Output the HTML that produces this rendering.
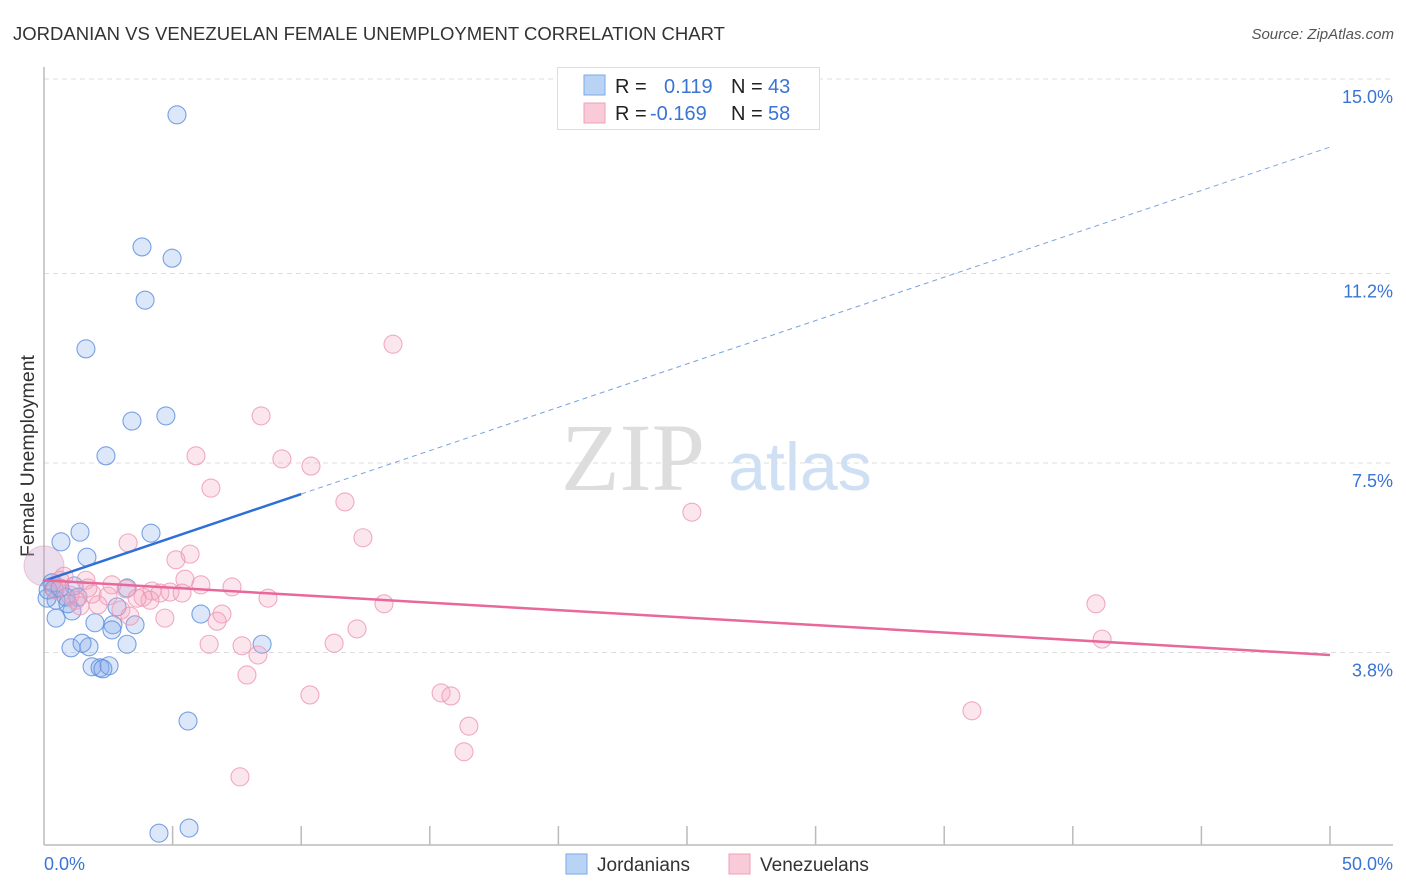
<!DOCTYPE html>
<html><head><meta charset="utf-8"><style>
body{margin:0;background:#fff;font-family:"Liberation Sans",sans-serif;}
svg{display:block}
</style></head><body>
<svg id="chart" width="1406" height="892">
<text x="13" y="40" font-size="18.5" fill="#333" textLength="712" lengthAdjust="spacingAndGlyphs">JORDANIAN VS VENEZUELAN FEMALE UNEMPLOYMENT CORRELATION CHART</text>
<text x="1394" y="39" font-size="15" fill="#555" font-style="italic" text-anchor="end">Source: ZipAtlas.com</text>
<text x="633" y="490" font-size="96" fill="#ddd" font-family="Liberation Serif, serif" text-anchor="middle">ZIP</text>
<text x="800" y="490" font-size="68" fill="#cfe0f5" text-anchor="middle">atlas</text>
<text transform="translate(34,456) rotate(-90)" font-size="19.5" fill="#333" text-anchor="middle" textLength="202" lengthAdjust="spacingAndGlyphs">Female Unemployment</text>
<g id="grid"></g><g id="axes"></g><g id="pts"></g><g id="trend"></g>
<g>
<rect x="557.5" y="67.5" width="262" height="62" fill="#fff" stroke="#ddd"/>
<rect x="584" y="75" width="21" height="20" fill="#b9d3f5" stroke="#7aa8e8"/>
<rect x="584" y="103" width="21" height="20" fill="#f9cad8" stroke="#f0a0b8"/>
<text y="93" font-size="20"><tspan x="615" fill="#222">R = </tspan><tspan x="664" fill="#3a74d4">0.119</tspan><tspan x="731" fill="#222">N = </tspan><tspan x="768" fill="#3a74d4">43</tspan></text>
<text y="120" font-size="20"><tspan x="615" fill="#222">R = </tspan><tspan x="650" fill="#3a74d4">-0.169</tspan><tspan x="731" fill="#222">N = </tspan><tspan x="768" fill="#3a74d4">58</tspan></text>
</g>
<g>
<rect x="566" y="854" width="21" height="20" fill="#b9d3f5" stroke="#7aa8e8"/>
<text x="597" y="871" font-size="19" fill="#333">Jordanians</text>
<rect x="729" y="854" width="21" height="20" fill="#f9cad8" stroke="#f0a0b8"/>
<text x="760" y="871" font-size="19" fill="#333">Venezuelans</text>
</g>
</svg>
<script>
const yTicks=[15.0,11.2,7.5,3.8];
const yTickLabels=["15.0%","11.2%","7.5%","3.8%"];
const xTickLabels=["0.0%","50.0%"];
const jorX=[5.17,3.81,4.98,3.93,1.63,4.74,3.42,2.41,1.40,4.16,0.66,1.67,0.31,0.39,1.17,3.23,0.86,1.32,0.47,0.12,2.84,1.09,6.10,0.47,1.98,2.68,3.54,2.64,3.23,8.48,1.05,1.75,1.48,1.87,2.18,2.53,2.29,5.60,4.47,5.64,0.16,0.62,0.93];
const jorY=[14.30,11.72,11.50,10.68,9.73,8.42,8.32,7.64,6.15,6.13,5.96,5.66,5.16,5.04,5.10,5.06,4.88,4.88,4.82,4.86,4.69,4.61,4.55,4.47,4.38,4.34,4.34,4.24,3.96,3.96,3.89,3.91,3.98,3.52,3.50,3.54,3.48,2.46,0.27,0.37,5.02,5.06,4.75];
const venX=[13.57,8.44,5.91,9.25,10.38,6.49,11.70,25.19,12.40,3.27,5.68,5.13,0.78,1.63,2.64,5.48,6.10,7.31,3.19,4.20,4.51,4.90,5.37,3.85,4.12,1.87,2.49,1.24,8.71,13.22,40.90,2.99,6.92,1.40,3.34,4.70,6.73,12.17,6.42,11.28,7.70,8.32,41.14,7.89,10.34,15.44,15.82,16.52,36.08,16.33,7.62,0.62,1.01,2.10,0.43,1.71,3.62];
const venY=[9.82,8.42,7.64,7.58,7.44,7.01,6.74,6.54,6.04,5.94,5.72,5.61,5.29,5.21,5.12,5.23,5.12,5.08,5.04,5.00,4.96,4.98,4.96,4.88,4.82,4.94,4.90,4.82,4.86,4.75,4.75,4.63,4.55,4.71,4.51,4.47,4.41,4.26,3.96,3.98,3.93,3.75,4.06,3.36,2.97,3.01,2.95,2.36,2.66,1.86,1.37,5.21,4.92,4.73,5.02,5.06,4.86];
const jorTrend=[5.20,13.67];
const venTrend=[5.21,3.75];
const NS="http://www.w3.org/2000/svg";
const X0=44,X1=1330,YTOP=79,PX=51.2;
const sx=v=>X0+(X1-X0)*v/50;
const sy=v=>YTOP+(15-v)*PX;
function mk(tag,attrs,parent){const e=document.createElementNS(NS,tag);for(const k in attrs)e.setAttribute(k,attrs[k]);document.getElementById(parent).appendChild(e);return e;}
yTicks.forEach((t,i)=>{
 const g=mk('line',{x1:X0,x2:1393,y1:sy(t),y2:sy(t),stroke:'#ddd','stroke-dasharray':'5,4'},'grid');
 
 
 const l=mk('text',{x:1393,y:sy(t)+24,'font-size':18,fill:'#3a74d4','text-anchor':'end'},'grid');
 l.textContent=yTickLabels[i];
 
 
});
const ya=mk('line',{x1:X0,x2:X0,y1:67,y2:845,stroke:'#bbb','stroke-width':1.5},'axes');


const xa=mk('line',{x1:X0,x2:1393,y1:845,y2:845,stroke:'#bbb','stroke-width':1.5},'axes');


for(let i=1;i<=10;i++){
 const t=mk('line',{x1:sx(i*5),x2:sx(i*5),y1:826,y2:845,stroke:'#bbb','stroke-width':1.5},'axes');
 
 
}
[[0,'start',X0],[1,'end',1393]].forEach(([i,a,x])=>{
 const l=mk('text',{x:x,y:870,'font-size':18,fill:'#3a74d4','text-anchor':a},'axes');
 l.textContent=xTickLabels[i];
 
 
});
const big=mk('circle',{cx:sx(0),cy:sy(5.49),r:20,fill:'rgba(200,160,200,0.35)',stroke:'rgba(220,150,180,0.5)'},'pts');


jorX.forEach((x,i)=>{
 const c=mk('circle',{cx:sx(x),cy:sy(jorY[i]),r:9,fill:'rgba(130,170,235,0.28)',stroke:'rgba(90,140,220,0.8)','stroke-width':1.1},'pts');
 
 
});
venX.forEach((x,i)=>{
 const c=mk('circle',{cx:sx(x),cy:sy(venY[i]),r:9,fill:'rgba(245,165,195,0.28)',stroke:'rgba(238,150,180,0.8)','stroke-width':1.1},'pts');
 
 
});
const jy=x=>jorTrend[0]+(jorTrend[1]-jorTrend[0])*x/50;
const t1=mk('line',{x1:sx(0),y1:sy(jy(0)),x2:sx(10),y2:sy(jy(10)),stroke:'#2f6fd6','stroke-width':2.5},'trend');


const t2=mk('line',{x1:sx(10),y1:sy(jy(10)),x2:sx(50),y2:sy(jy(50)),stroke:'#7aa3e0','stroke-width':1,'stroke-dasharray':'5,4'},'trend');


const t3=mk('line',{x1:sx(0),y1:sy(venTrend[0]),x2:sx(50),y2:sy(venTrend[1]),stroke:'#e8689a','stroke-width':2.5},'trend');


</script>
</body></html>
